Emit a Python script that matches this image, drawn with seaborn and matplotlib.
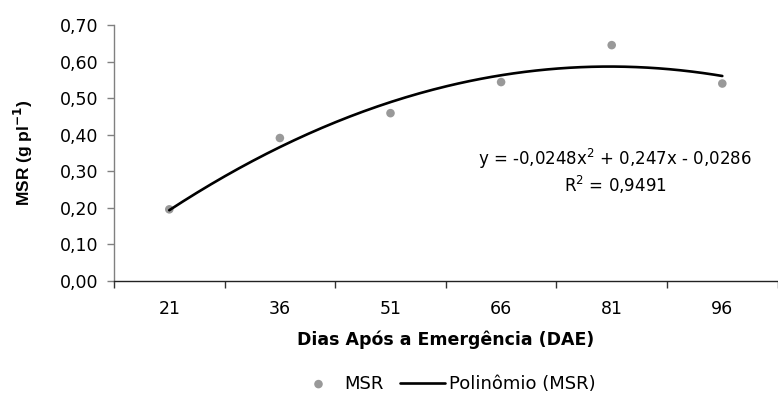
import numpy as np
import pandas as pd
import matplotlib
matplotlib.use("Agg")
import matplotlib.pyplot as plt
import seaborn as sns

# Data
dae = ["21", "36", "51", "66", "81", "96"]
msr = [0.196, 0.391, 0.459, 0.544, 0.645, 0.540]
poly_coef = [-0.0248, 0.247, -0.0286]  # y = a x^2 + b x + c (x = 1..6)
y_ticks = [0.0, 0.1, 0.2, 0.3, 0.4, 0.5, 0.6, 0.7]
eq_text = "y = -0,0248x$^2$ + 0,247x - 0,0286"
r2_text = "R$^2$ = 0,9491"

sns.set_theme(style="white")
plt.rcParams['font.family'] = ['DejaVu Sans']
plt.rcParams['mathtext.fontset'] = 'dejavusans'
plt.rcParams['text.color'] = 'black'
plt.rcParams['axes.labelcolor'] = 'black'
plt.rcParams['xtick.color'] = 'black'
plt.rcParams['ytick.color'] = 'black'

idx = np.arange(1, len(dae) + 1)
df = pd.DataFrame({"x": idx, "MSR": msr})
xs = np.linspace(1, len(dae), 200)
curve = pd.DataFrame({"x": xs, "y": np.polyval(poly_coef, xs)})

fig = plt.figure(figsize=(7.78, 3.99), dpi=100)
ax = fig.add_axes([0.1465, 0.2957, 0.853, 0.6416])

sns.lineplot(data=curve, x="x", y="y", ax=ax, color="black", linewidth=1.9,
             label="Polinômio (MSR)", zorder=3)
sns.scatterplot(data=df, x="x", y="MSR", ax=ax, color="#999999", s=38,
                edgecolor="none", label="MSR", zorder=2)

ax.set_xlim(0.5, len(dae) + 0.5)
ax.set_ylim(0, 0.7)
ax.set_xticks(idx)
ax.set_xticklabels(dae, fontsize=12.5, color="black")
ax.set_xticks(np.arange(0.5, len(dae) + 1, 1), minor=True)
ax.tick_params(axis="x", which="major", length=0, pad=14)
ax.tick_params(axis="x", which="minor", length=5, width=1, color="#333333",
               direction="out", bottom=True)
ax.set_yticks(y_ticks)
ax.set_yticklabels([f"{v:.2f}".replace(".", ",") for v in y_ticks], fontsize=12.5,
                   color="black")
ax.tick_params(axis="y", length=5, width=1, color="#808080", direction="out",
               left=True, pad=6)

for s in ["top", "right"]:
    ax.spines[s].set_visible(False)
ax.spines["left"].set_color("#808080")
ax.spines["bottom"].set_color("#222222")
ax.spines["left"].set_linewidth(1)
ax.spines["bottom"].set_linewidth(1)

ax.set_xlabel("Dias Após a Emergência (DAE)", fontsize=12.5, fontweight="bold",
              labelpad=9, color="black")
ax.set_ylabel("MSR (g pl$^{\\mathbf{-1}}$)", fontsize=12.5, fontweight="bold",
              labelpad=18, family=["Liberation Sans", "DejaVu Sans"], color="black")

ax.text(0.755, 0.475, eq_text, transform=ax.transAxes, ha="center", va="center",
        fontsize=12, color="black")
ax.text(0.755, 0.375, r2_text, transform=ax.transAxes, ha="center", va="center",
        fontsize=12, color="black")

handles, labels = ax.get_legend_handles_labels()
order = [labels.index("MSR"), labels.index("Polinômio (MSR)")]
leg = ax.legend([handles[i] for i in order], [labels[i] for i in order],
                loc="center", bbox_to_anchor=(0.573, 0.038),
                bbox_transform=fig.transFigure,
                ncol=2, frameon=False, fontsize=13, handlelength=2.5,
                handletextpad=0.2, columnspacing=0.9)
for t in leg.get_texts():
    t.set_color("black")

fig.savefig("out.png", dpi=100)
